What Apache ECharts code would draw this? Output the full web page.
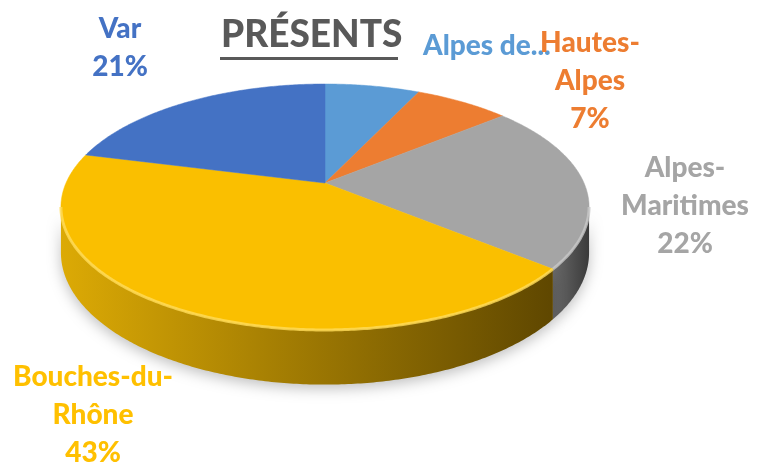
<!DOCTYPE html>
<html>
<head>
<meta charset="utf-8">
<script src="https://cdn.jsdelivr.net/npm/echarts@6/dist/echarts.min.js"></script>
<style>
  html, body { margin: 0; background: #fff; }
  #chart { width: 757px; height: 462px; }
</style>
</head>
<body>
<div id="chart"></div>
<script>
// données (sens horaire depuis midi)
const categories = ['Alpes de Haute-Provence', 'Hautes-Alpes', 'Alpes-Maritimes', 'Bouches-du-Rhône', 'Var'];
const values = [7, 7, 22, 43, 21];
const labelNames = ['Alpes de...', 'Hautes-\nAlpes', 'Alpes-\nMaritimes', 'Bouches-du-\nRhône', 'Var'];
const showPercent = [false, true, true, true, true];
const titleText = 'PRÉSENTS';

// styles
const topColors = ['#5b9bd5', '#ed7d31', '#a5a5a5', '#fabf00', '#4472c4'];
const rimColors = ['#8cbbe6', '#f5a26a', '#c8c8c8', '#ffdc5a', '#7096d8'];
const sideStops = [
  ['#3f7cb4', '#2c5a85'],
  ['#c9621d', '#8f4410'],
  ['#6a6a6a', '#3a3a3a'],
  ['#dcaa05', '#5f4700'],
  ['#325aa0', '#223f73']
];
const labelColors = ['#5b9bd5', '#ed7d31', '#a5a5a5', '#ffc000', '#4472c4'];
// position des étiquettes [x, y, align]
const labelPos = [[423, 46, 'left'], [590, 81, 'center'], [685, 206, 'center'], [93, 415, 'center'], [120, 48, 'center']];

// géométrie du camembert 3D (perspective)
const cx = 325, cy = 183, A = 259, B = 118.3, K = 0.195, D = 44;
const total = values.reduce((a, b) => a + b, 0);
const starts = [];
values.reduce((acc, v, i) => { starts[i] = acc; return acc + v; }, 0);

function proj(theta, drop) {
  const u = Math.sin(theta), v = -Math.cos(theta);
  const w = 1 - K * v;
  return [cx + A * u / w, cy + B * v / w + (drop ? D / w : 0)];
}
function arc(a0, a1, drop) {
  const n = Math.max(2, Math.ceil((a1 - a0) / 0.01));
  const pts = [];
  for (let j = 0; j <= n; j++) pts.push(proj(a0 + (a1 - a0) * j / n, drop));
  return pts;
}
const frontA = Math.acos(-K), frontB = 2 * Math.PI - Math.acos(-K);

function sliceAngles(i) {
  return [2 * Math.PI * starts[i] / total, 2 * Math.PI * (starts[i] + values[i]) / total];
}

function renderSide(params, api) {
  const i = params.dataIndex;
  const [a0, a1] = sliceAngles(i);
  const s = Math.max(a0, frontA), e = Math.min(a1, frontB);
  if (e <= s) return { type: 'group', children: [] };
  const top = arc(s, e, false);
  const bottom = arc(s, e, true).reverse();
  return {
    type: 'polygon',
    shape: { points: top.concat(bottom) },
    style: {
      fill: new echarts.graphic.LinearGradient(0, 0, 1, 0, [
        { offset: 0, color: sideStops[i][0] },
        { offset: 1, color: sideStops[i][1] }
      ]),
      shadowBlur: 14,
      shadowColor: 'rgba(0,0,0,0.25)',
      shadowOffsetY: 4
    }
  };
}

function renderTop(params, api) {
  const i = params.dataIndex;
  const [a0, a1] = sliceAngles(i);
  const children = [{
    type: 'polygon',
    shape: { points: [[cx, cy]].concat(arc(a0, a1, false)) },
    style: { fill: topColors[i], stroke: topColors[i], lineWidth: 0.5 }
  }];
  const s = Math.max(a0, frontA), e = Math.min(a1, frontB);
  if (e > s) {
    children.push({
      type: 'polyline',
      shape: { points: arc(s, e, false) },
      style: { stroke: rimColors[i], lineWidth: 3, fill: null, opacity: 0.8 }
    });
  }
  const p = labelPos[i];
  children.push({
    type: 'text',
    style: {
      text: labelNames[i] + (showPercent[i] ? '\n' + Math.round(api.value(0) / total * 100) + '%' : ''),
      x: p[0], y: p[1],
      align: p[2], verticalAlign: 'middle',
      fill: labelColors[i],
      fontFamily: 'Lato', fontWeight: 900, fontSize: 28, lineHeight: 38
    }
  });
  return { type: 'group', children: children };
}

const chart = echarts.init(document.getElementById('chart'));
chart.setOption({
  animation: false,
  graphic: [
    {
      type: 'text', left: 221, top: 17,
      style: { text: titleText, fill: '#595959', fontFamily: 'Lato', fontWeight: 900, fontSize: 37 }
    },
    {
      type: 'rect', shape: { x: 220, y: 57, width: 178, height: 3 },
      style: { fill: '#595959' }
    }
  ],
  series: [
    { type: 'custom', name: 'side', coordinateSystem: 'none', z: 1, data: values, renderItem: renderSide },
    { type: 'custom', name: 'top', coordinateSystem: 'none', z: 2, data: values, renderItem: renderTop }
  ]
});
</script>
</body>
</html>
